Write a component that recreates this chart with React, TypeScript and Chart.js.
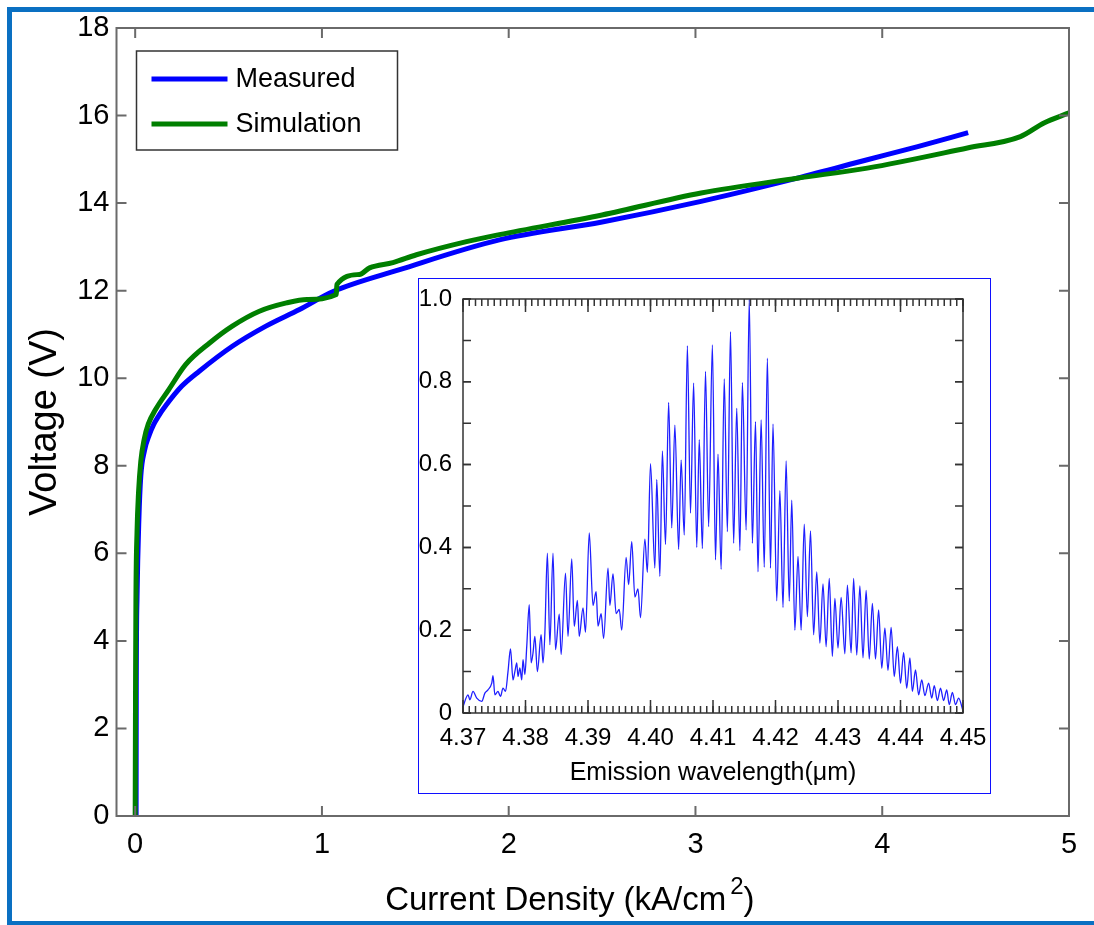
import React, { useEffect, useRef } from 'react';
import { Chart, registerables } from 'chart.js';

Chart.register(...registerables);

// ---------- Main I-V chart data ----------
const measuredX = [0.005, 0.006, 0.01, 0.02, 0.03, 0.05, 0.075, 0.1, 0.12, 0.165, 0.25, 0.343, 0.52, 0.7, 0.88, 1.06, 1.416, 1.95, 2.5, 3.03, 3.545, 3.92, 4.19, 4.46];
const measuredY = [0, 3.0, 5.0, 6.8, 7.76, 8.35, 8.7, 8.95, 9.1, 9.38, 9.82, 10.16, 10.73, 11.19, 11.57, 11.98, 12.48, 13.16, 13.57, 14.04, 14.57, 14.99, 15.29, 15.61];

const simulationX = [0.0, 0.002, 0.004, 0.01, 0.018, 0.03, 0.048, 0.07, 0.11, 0.18, 0.27, 0.4, 0.52, 0.665, 0.81, 0.92, 1.077, 1.08, 1.2, 1.255, 1.38, 1.506, 1.774, 1.95, 2.5, 3.03, 3.545, 3.92, 4.456, 4.74, 4.866, 5.0];
const simulationY = [0, 3.0, 4.95, 6.5, 7.39, 8.1, 8.6, 8.95, 9.29, 9.74, 10.31, 10.81, 11.19, 11.53, 11.72, 11.8, 11.91, 12.14, 12.37, 12.52, 12.64, 12.82, 13.12, 13.28, 13.73, 14.23, 14.57, 14.8, 15.26, 15.52, 15.83, 16.06];

const mainXTicks = [0, 1, 2, 3, 4, 5];
const mainYTicks = [0, 2, 4, 6, 8, 10, 12, 14, 16, 18];
const mainXTitle = 'Current Density (kA/cm';
const mainXTitleSup = '2';
const mainYTitle = 'Voltage (V)';

// ---------- Inset spectrum data ----------
const spectrumX = [
  4.3700, 4.3708, 4.3711, 4.3716, 4.3722, 4.3730, 4.3735, 4.3740, 4.3746, 4.3748,
  4.3751, 4.3756, 4.3760, 4.3764, 4.3768, 4.3772, 4.3776, 4.3780, 4.3783, 4.3786,
  4.3788, 4.3791, 4.3794, 4.3796, 4.3799, 4.3802, 4.3806, 4.3809, 4.3812, 4.3815,
  4.3819, 4.3825, 4.3828, 4.3831, 4.3835, 4.3839, 4.3844, 4.3848, 4.3854, 4.3857,
  4.3864, 4.3868, 4.3874, 4.3878, 4.3883, 4.3886, 4.3892, 4.3896, 4.3902,
  4.3908, 4.3913, 4.3916, 4.3921, 4.3925, 4.3932, 4.3935, 4.3940, 4.3945, 4.3950,
  4.3954, 4.3961, 4.3965, 4.3970, 4.3975, 4.3980, 4.3984, 4.3991, 4.3995, 4.4000,
  4.4007, 4.4010, 4.4015, 4.4019, 4.4024, 4.4029, 4.4034, 4.4039, 4.4045, 4.4049,
  4.4054, 4.4059, 4.4064, 4.4069, 4.4074, 4.4078, 4.4083, 4.4088, 4.4093, 4.4099,
  4.4104, 4.4108, 4.4113, 4.4118, 4.4123, 4.4128, 4.4133, 4.4138, 4.4143, 4.4147,
  4.4153, 4.4158, 4.4163, 4.4168, 4.4172, 4.4177, 4.4182, 4.4187, 4.4192, 4.4196,
  4.4202, 4.4207, 4.4212, 4.4217, 4.4222, 4.4226, 4.4231, 4.4236, 4.4241, 4.4246,
  4.4251, 4.4256, 4.4261, 4.4266, 4.4271, 4.4276, 4.4281, 4.4286, 4.4291, 4.4295,
  4.4300, 4.4305, 4.4311, 4.4315, 4.4321, 4.4325, 4.4330, 4.4335, 4.4340, 4.4345,
  4.4350, 4.4355, 4.4360, 4.4365, 4.4370, 4.4375, 4.4380, 4.4385, 4.4390, 4.4395,
  4.4400, 4.4405, 4.4410, 4.4415, 4.4419, 4.4424, 4.4429, 4.4434, 4.4439, 4.4445,
  4.4450, 4.4454, 4.4459, 4.4464, 4.4469, 4.4474, 4.4478, 4.4483, 4.4488, 4.4493,
  4.4500,
];
const spectrumY = [
  0.015, 0.044, 0.032, 0.052, 0.036, 0.028, 0.048, 0.056, 0.072, 0.09,
  0.044, 0.052, 0.04, 0.06, 0.052, 0.10, 0.155, 0.08, 0.10, 0.121,
  0.088, 0.109, 0.08, 0.129, 0.093, 0.161, 0.262, 0.121, 0.145, 0.185,
  0.10, 0.189, 0.121, 0.193, 0.386, 0.165, 0.386, 0.153, 0.239, 0.141,
  0.338, 0.185, 0.372, 0.209, 0.272, 0.185, 0.254, 0.195, 0.435,
  0.26, 0.293, 0.21, 0.24, 0.18, 0.35, 0.26, 0.336, 0.24, 0.25,
  0.2, 0.376, 0.31, 0.414, 0.28, 0.30, 0.23, 0.42, 0.34, 0.602,
  0.35, 0.564, 0.33, 0.633, 0.407, 0.75, 0.447, 0.695, 0.395, 0.611,
  0.43, 0.887, 0.483, 0.797, 0.40, 0.66, 0.397, 0.825, 0.45, 0.889,
  0.37, 0.625, 0.347, 0.807, 0.438, 0.921, 0.41, 0.736, 0.392, 0.798,
  0.442, 1.0, 0.41, 0.704, 0.341, 0.708, 0.352, 0.857, 0.35, 0.698,
  0.271, 0.537, 0.255, 0.609, 0.27, 0.514, 0.2, 0.378, 0.2, 0.456,
  0.233, 0.44, 0.189, 0.341, 0.169, 0.312, 0.16, 0.325, 0.137, 0.277,
  0.157, 0.279, 0.143, 0.309, 0.145, 0.325, 0.14, 0.307, 0.133, 0.296,
  0.13, 0.265, 0.13, 0.249, 0.108, 0.205, 0.103, 0.207, 0.088, 0.16,
  0.072, 0.146, 0.06, 0.133, 0.052, 0.104, 0.044, 0.08, 0.042, 0.072,
  0.036, 0.066, 0.03, 0.06, 0.03, 0.056, 0.02, 0.05, 0.02, 0.036,
  0.005,
];

const insetXTicks = [4.37, 4.38, 4.39, 4.40, 4.41, 4.42, 4.43, 4.44, 4.45];
const insetYTicks = [0, 0.2, 0.4, 0.6, 0.8, 1.0];
const insetXTitle = 'Emission wavelength(μm)';

const FONT = "'Liberation Sans Narrow', 'Liberation Sans', Arial, sans-serif";

// Draws the axis box and inward ticks on all four sides
const frameTicksPlugin = {
  id: 'frameTicks',
  afterDatasetsDraw(chart: any, _args: any, opts: any) {
    const { ctx, chartArea } = chart;
    const { left, right, top, bottom } = chartArea;
    const xs = chart.scales.x;
    const ys = chart.scales.y;
    ctx.save();
    ctx.strokeStyle = opts.color;
    ctx.lineWidth = opts.lineWidth;
    ctx.lineCap = 'butt';
    const tickX = (v: number, len: number) => {
      const px = xs.getPixelForValue(v);
      ctx.beginPath();
      ctx.moveTo(px, bottom);
      ctx.lineTo(px, bottom - len);
      ctx.moveTo(px, top);
      ctx.lineTo(px, top + len);
      ctx.stroke();
    };
    const tickY = (v: number, len: number) => {
      const py = ys.getPixelForValue(v);
      ctx.beginPath();
      ctx.moveTo(left, py);
      ctx.lineTo(left + len, py);
      ctx.moveTo(right, py);
      ctx.lineTo(right - len, py);
      ctx.stroke();
    };
    if (opts.xMinorStep) {
      const n = Math.round((xs.max - xs.min) / opts.xMinorStep);
      for (let i = 0; i <= n; i++) tickX(xs.min + i * opts.xMinorStep, opts.minorLen);
    }
    if (opts.yMinorStep) {
      const n = Math.round((ys.max - ys.min) / opts.yMinorStep);
      for (let i = 0; i <= n; i++) tickY(ys.min + i * opts.yMinorStep, opts.yLen);
    }
    opts.xMajor.forEach((v: number) => tickX(v, opts.majorLen));
    opts.yMajor.forEach((v: number) => tickY(v, opts.yLen));
    ctx.strokeRect(left, top, right - left, bottom - top);
    ctx.restore();
  },
};

// Boxed legend + x-axis title with a raised superscript
const boxLegendPlugin = {
  id: 'boxLegend',
  afterDraw(chart: any) {
    const { ctx, chartArea } = chart;
    const x0 = chartArea.left + 20;
    const y0 = chartArea.top + 23;
    const w = 261;
    const h = 99;
    ctx.save();
    ctx.fillStyle = '#fff';
    ctx.fillRect(x0, y0, w, h);
    ctx.strokeStyle = '#333';
    ctx.lineWidth = 1.5;
    ctx.strokeRect(x0, y0, w, h);
    chart.data.datasets.forEach((ds: any, i: number) => {
      const cy = y0 + 28 + i * 45;
      ctx.strokeStyle = ds.borderColor;
      ctx.lineWidth = 5;
      ctx.beginPath();
      ctx.moveTo(x0 + 15, cy);
      ctx.lineTo(x0 + 91, cy);
      ctx.stroke();
      ctx.fillStyle = '#000';
      ctx.font = `27px ${FONT}`;
      ctx.textBaseline = 'middle';
      ctx.textAlign = 'left';
      ctx.fillText(ds.label, x0 + 99, cy + 1);
    });

    // x-axis title: "Current Density (kA/cm" + superscript 2 + ")"
    const mainFont = `33px ${FONT}`;
    const supFont = `24px ${FONT}`;
    ctx.fillStyle = '#000';
    ctx.textBaseline = 'alphabetic';
    ctx.font = mainFont;
    const w1 = ctx.measureText(mainXTitle).width;
    const w3 = ctx.measureText(')').width;
    ctx.font = supFont;
    const w2 = ctx.measureText(mainXTitleSup).width;
    const gap = 4;
    const total = w1 + gap + w2 + w3;
    const cx = chartArea.left + (chartArea.right - chartArea.left) * 0.476;
    const baseY = 910;
    let xPos = cx - total / 2;
    ctx.textAlign = 'left';
    ctx.font = mainFont;
    ctx.fillText(mainXTitle, xPos, baseY);
    xPos += w1 + gap;
    ctx.font = supFont;
    ctx.fillText(mainXTitleSup, xPos, baseY - 16);
    xPos += w2;
    ctx.font = mainFont;
    ctx.fillText(')', xPos, baseY);
    ctx.restore();
  },
};

function MainChart() {
  const ref = useRef<HTMLCanvasElement | null>(null);
  useEffect(() => {
    if (!ref.current) return;
    const chart = new Chart(ref.current, {
      type: 'line',
      data: {
        datasets: [
          {
            label: 'Measured',
            data: measuredX.map((x, i) => ({ x, y: measuredY[i] })),
            borderColor: '#0000ff',
            borderWidth: 5,
            pointRadius: 0,
            fill: false,
            cubicInterpolationMode: 'monotone',
            order: 1,
          },
          {
            label: 'Simulation',
            data: simulationX.map((x, i) => ({ x, y: simulationY[i] })),
            borderColor: '#007f00',
            borderWidth: 5,
            pointRadius: 0,
            fill: false,
            cubicInterpolationMode: 'monotone',
            order: 0,
          },
        ],
      },
      options: {
        animation: false,
        responsive: false,
        maintainAspectRatio: false,
        layout: { padding: { top: 28, right: 25, left: 0, bottom: 0 } },
        plugins: {
          legend: { display: false },
          tooltip: { enabled: false },
          frameTicks: {
            color: '#6a6a6a',
            lineWidth: 2,
            xMajor: mainXTicks,
            yMajor: mainYTicks,
            majorLen: 10,
            minorLen: 0,
            yLen: 10,
          },
        } as any,
        scales: {
          x: {
            type: 'linear',
            min: -0.1,
            max: 5,
            afterBuildTicks: (s: any) => {
              s.ticks = mainXTicks.map((v) => ({ value: v }));
            },
            afterFit: (s: any) => {
              s.height = 109;
              s.paddingLeft = 0;
              s.paddingRight = 0;
            },
            grid: { display: false, drawTicks: false },
            border: { display: false },
            ticks: {
              autoSkip: false,
              maxRotation: 0,
              padding: 12,
              color: '#000',
              font: { family: FONT, size: 29 },
              callback: (v: any) => String(v),
            },
          },
          y: {
            type: 'linear',
            min: 0,
            max: 18,
            afterBuildTicks: (s: any) => {
              s.ticks = mainYTicks.map((v) => ({ value: v }));
            },
            afterFit: (s: any) => {
              s.width = 116.5;
              s.paddingTop = 0;
              s.paddingBottom = 0;
            },
            grid: { display: false, drawTicks: false },
            border: { display: false },
            ticks: {
              autoSkip: false,
              padding: 7,
              color: '#000',
              font: { family: FONT, size: 29 },
              callback: (v: any) => String(v),
            },
            title: {
              display: true,
              text: mainYTitle,
              color: '#000',
              font: { family: FONT, size: 38 },
              padding: { top: 23, bottom: 0 },
            },
          },
        },
      },
      plugins: [frameTicksPlugin, boxLegendPlugin],
    } as any);
    return () => chart.destroy();
  }, []);
  return <canvas ref={ref} width={1094} height={925} style={{ display: 'block', width: 1094, height: 925 }} />;
}

function InsetChart() {
  const ref = useRef<HTMLCanvasElement | null>(null);
  useEffect(() => {
    if (!ref.current) return;
    const chart = new Chart(ref.current, {
      type: 'line',
      data: {
        datasets: [
          {
            label: 'Spectrum',
            data: spectrumX.map((x, i) => ({ x, y: spectrumY[i] })),
            borderColor: '#1f1fff',
            borderWidth: 1.3,
            pointRadius: 0,
            fill: false,
            cubicInterpolationMode: 'monotone',
          },
        ],
      },
      options: {
        animation: false,
        responsive: false,
        maintainAspectRatio: false,
        layout: { padding: { top: 20, right: 27, left: 0, bottom: 0 } },
        plugins: {
          legend: { display: false },
          tooltip: { enabled: false },
          frameTicks: {
            color: '#333',
            lineWidth: 1.5,
            xMajor: insetXTicks,
            yMajor: insetYTicks,
            majorLen: 13,
            minorLen: 7,
            yLen: 8,
            xMinorStep: 0.001,
            yMinorStep: 0.1,
          },
        } as any,
        scales: {
          x: {
            type: 'linear',
            min: 4.37,
            max: 4.45,
            afterBuildTicks: (s: any) => {
              s.ticks = insetXTicks.map((v) => ({ value: v }));
            },
            afterFit: (s: any) => {
              s.height = 80;
              s.paddingLeft = 0;
              s.paddingRight = 0;
            },
            grid: { display: false, drawTicks: false },
            border: { display: false },
            ticks: {
              autoSkip: false,
              maxRotation: 0,
              padding: 11,
              color: '#000',
              font: { family: FONT, size: 24 },
              callback: (v: any) => Number(v).toFixed(2),
            },
            title: {
              display: true,
              text: insetXTitle,
              color: '#000',
              font: { family: FONT, size: 25 },
              padding: { top: 0, bottom: 5 },
            },
          },
          y: {
            type: 'linear',
            min: 0,
            max: 1,
            afterBuildTicks: (s: any) => {
              s.ticks = insetYTicks.map((v) => ({ value: v }));
            },
            afterFit: (s: any) => {
              s.width = 44;
              s.paddingTop = 0;
              s.paddingBottom = 0;
            },
            grid: { display: false, drawTicks: false },
            border: { display: false },
            ticks: {
              autoSkip: false,
              padding: 11,
              color: '#000',
              font: { family: FONT, size: 24 },
              callback: (v: any) => (Number(v) === 0 ? '0' : Number(v).toFixed(1)),
            },
          },
        },
      },
      plugins: [frameTicksPlugin],
    } as any);
    return () => chart.destroy();
  }, []);
  return <canvas ref={ref} width={571} height={514} style={{ display: 'block', width: 571, height: 514 }} />;
}

export default function App() {
  return (
    <div style={{ position: 'absolute', left: 0, top: 0, width: 1094, height: 925, background: '#fff', overflow: 'hidden' }}>
      <MainChart />
      <div
        style={{
          position: 'absolute',
          left: 418,
          top: 278,
          width: 573,
          height: 516,
          boxSizing: 'border-box',
          border: '1px solid #1010ff',
          background: '#fff',
        }}
      >
        <InsetChart />
      </div>
      <div
        style={{
          position: 'absolute',
          left: 7,
          top: 7,
          width: 1087,
          height: 918,
          boxSizing: 'border-box',
          borderTop: '5px solid #0a70c2',
          borderLeft: '5px solid #0a70c2',
          borderBottom: '4px solid #0a70c2',
          pointerEvents: 'none',
        }}
      />
    </div>
  );
}
